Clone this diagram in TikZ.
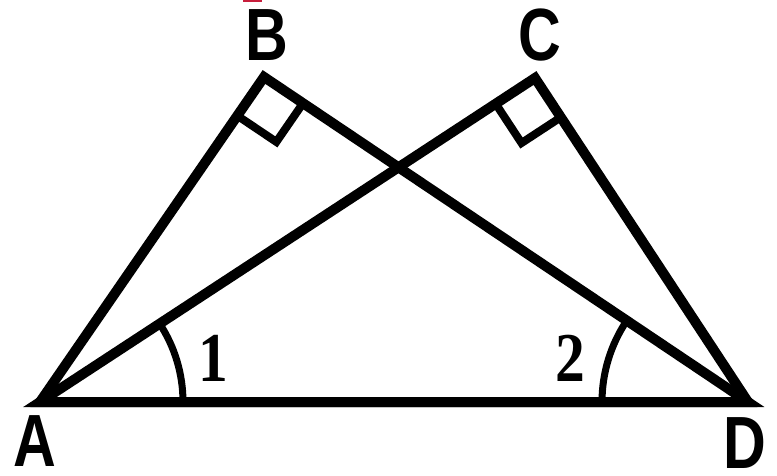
\documentclass[tikz,border=0pt]{standalone}
\usepackage{fontspec}
\usetikzlibrary{calc}
\newfontfamily\labfont[FakeStretch=0.8]{Liberation Sans Bold}
\newfontfamily\numfont[FakeStretch=0.85]{Liberation Serif Bold}
\definecolor{markred}{RGB}{200,30,60}
\begin{document}
\begin{tikzpicture}[x=1pt,y=-1pt,
  edge/.style={line width=10pt,line join=miter},
  rmark/.style={line width=8pt,line join=miter},
  amark/.style={line width=7pt},
  ptlabel/.style={inner sep=0pt,font=\labfont\fontsize{74}{74}\selectfont},
  anglabel/.style={inner sep=0pt,font=\numfont\fontsize{70}{70}\selectfont}]
\useasboundingbox (0,0) rectangle (777,476);
\fill[markred] (243,0) rectangle (262,2);
\coordinate (A) at (40,402);
\coordinate (B) at (264,77);
\coordinate (C) at (535,78);
\coordinate (D) at (748,402);
% right angle marks
\draw[rmark] ($(B)!47pt!(A)$) -- ($(B)!47pt!(A)+(B)!47pt!(D)-(B)$) -- ($(B)!47pt!(D)$);
\draw[rmark] ($(C)!47pt!(A)$) -- ($(C)!47pt!(A)+(C)!47pt!(D)-(C)$) -- ($(C)!47pt!(D)$);
% angle arcs
\draw[amark] ($(A)+(143,0)$) arc[start angle=0,end angle=-33.2,radius=143];
\draw[amark] ($(D)+(-146,0)$) arc[start angle=180,end angle=214,radius=146];
% triangles
\draw[edge] (A) -- (B) -- (D) -- cycle;
\draw[edge] (A) -- (C) -- (D) -- cycle;
% labels
\node[ptlabel] (lA) at (35,441) {A};
\node[ptlabel] (lB) at (267,35) {B};
\node[ptlabel] (lC) at (540,35) {C};
\node[ptlabel] (lD) at (745,443) {D};
\node[anglabel] (n1) at (213,358) {1};
\node[anglabel] (n2) at (570,358) {2};
\end{tikzpicture}
\end{document}
